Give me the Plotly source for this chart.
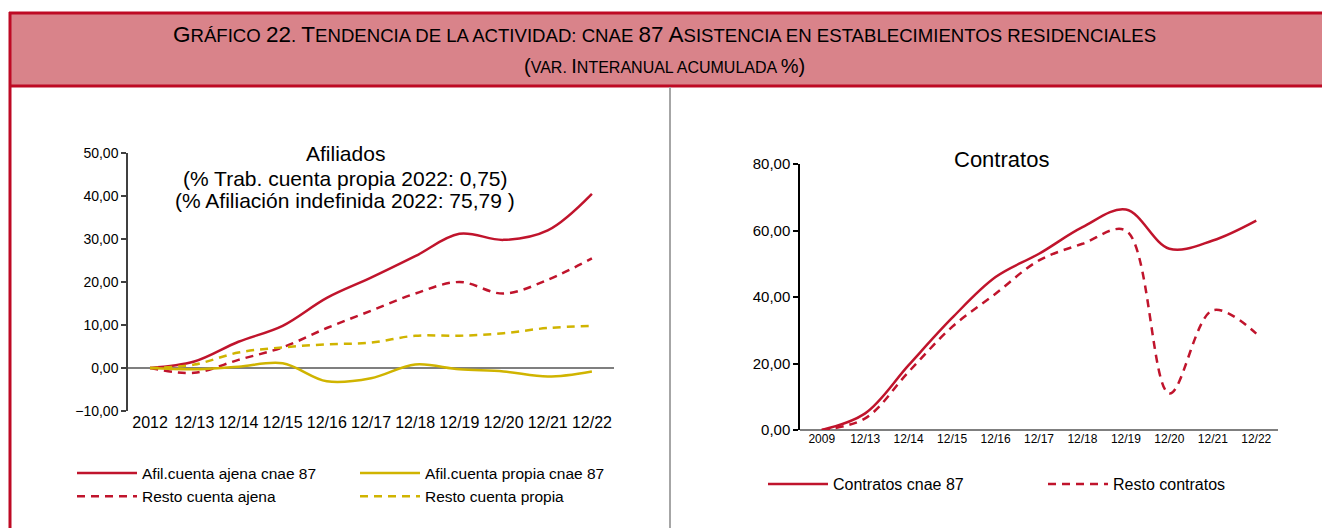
import plotly.graph_objects as go

# ---------------- data ----------------
cats_afil = ["2012", "12/13", "12/14", "12/15", "12/16", "12/17", "12/18", "12/19", "12/20", "12/21", "12/22"]
afil_ajena = [0, 1.5, 6.1, 9.8, 16.3, 21.0, 26.0, 31.2, 29.8, 32.0, 40.5]
resto_ajena = [0, -1.1, 1.9, 4.8, 9.3, 13.3, 17.3, 20.0, 17.3, 20.5, 25.5]
afil_propia = [0, -0.3, 0.3, 1.1, -3.1, -2.4, 0.8, -0.3, -0.8, -2.0, -0.8]
resto_propia = [0, 0.8, 3.6, 4.8, 5.5, 5.9, 7.5, 7.5, 8.1, 9.3, 9.8]

cats_contr = ["2009", "12/13", "12/14", "12/15", "12/16", "12/17", "12/18", "12/19", "12/20", "12/21", "12/22"]
contratos = [0, 5.0, 19.5, 33.7, 46.0, 53.0, 61.0, 66.3, 54.5, 57.0, 63.0]
resto_contr = [0, 3.5, 17.5, 31.0, 41.0, 51.0, 56.0, 60.0, 11.0, 36.0, 29.0]

afil_ticks = [-10, 0, 10, 20, 30, 40, 50]
contr_ticks = [0, 20, 40, 60, 80]

# ---------------- style ----------------
W, H = 1322, 528
RED = "#C0142C"
YEL = "#D0B400"
BAND_FILL = "#D9838A"
BAND_LINE = "#BE0A24"
FONT = "Liberation Sans, Arial, sans-serif"
DASH = "8px,6px"


def px(x):
    return x / W


def py(y):
    return 1 - y / H


fig = go.Figure()

fig.add_trace(go.Scatter(x=cats_afil, y=afil_ajena, name="Afil.cuenta ajena cnae 87", mode="lines",
                         line=dict(color=RED, width=2.5, shape="spline", smoothing=1.0),
                         xaxis="x", yaxis="y", legend="legend"))
fig.add_trace(go.Scatter(x=cats_afil, y=resto_ajena, name="Resto cuenta ajena", mode="lines",
                         line=dict(color=RED, width=2.5, dash=DASH, shape="spline", smoothing=1.0),
                         xaxis="x", yaxis="y", legend="legend"))
fig.add_trace(go.Scatter(x=cats_afil, y=afil_propia, name="Afil.cuenta propia cnae 87", mode="lines",
                         line=dict(color=YEL, width=2.5, shape="spline", smoothing=1.0),
                         xaxis="x", yaxis="y", legend="legend2"))
fig.add_trace(go.Scatter(x=cats_afil, y=resto_propia, name="Resto cuenta propia", mode="lines",
                         line=dict(color=YEL, width=2.5, dash=DASH, shape="spline", smoothing=1.0),
                         xaxis="x", yaxis="y", legend="legend2"))

fig.add_trace(go.Scatter(x=cats_contr, y=contratos, name="Contratos cnae 87", mode="lines",
                         line=dict(color=RED, width=2.5, shape="spline", smoothing=1.0),
                         xaxis="x2", yaxis="y2", legend="legend3"))
fig.add_trace(go.Scatter(x=cats_contr, y=resto_contr, name="Resto contratos", mode="lines",
                         line=dict(color=RED, width=2.5, dash=DASH, shape="spline", smoothing=1.0),
                         xaxis="x2", yaxis="y2", legend="legend4"))

# ---------------- title band ----------------
shapes = [
    dict(type="rect", xref="paper", yref="paper", x0=px(10), x1=px(1330), y0=py(86), y1=py(13),
         fillcolor=BAND_FILL, line=dict(width=0), layer="below"),
    dict(type="line", xref="paper", yref="paper", x0=px(9), x1=px(1330), y0=py(13), y1=py(13),
         line=dict(color=BAND_LINE, width=3)),
    dict(type="line", xref="paper", yref="paper", x0=px(9), x1=px(1330), y0=py(86), y1=py(86),
         line=dict(color=BAND_LINE, width=3)),
    dict(type="line", xref="paper", yref="paper", x0=px(10), x1=px(10), y0=py(12), y1=py(540),
         line=dict(color=BAND_LINE, width=3)),
    dict(type="line", xref="paper", yref="paper", x0=px(670), x1=px(670), y0=py(87), y1=py(540),
         line=dict(color="#A6A6A6", width=2)),
]


def sp(txt, size):
    return f'<span style="font-size:{size}px">{txt}</span>'


B1, S1 = 22.5, 18.6
B2, S2 = 20, 16
line1 = (sp("G", B1) + sp("RÁFICO ", S1) + sp("22", B1) + sp(". ", S1) + sp("T", B1)
         + sp("ENDENCIA DE LA ACTIVIDAD: CNAE ", S1) + sp("87 ", B1) + sp("A", B1)
         + sp("SISTENCIA EN ESTABLECIMIENTOS RESIDENCIALES", S1))
line2 = (sp("(", B2) + sp("VAR. ", S2) + sp("I", B2) + sp("NTERANUAL ACUMULADA ", S2) + sp("%)", B2))

annotations = [
    dict(text=line1, xref="paper", yref="paper", x=px(664), y=py(34), showarrow=False,
         xanchor="center", yanchor="middle", font=dict(family=FONT, size=B1, color="#000000")),
    dict(text=line2, xref="paper", yref="paper", x=px(664), y=py(66), showarrow=False,
         xanchor="center", yanchor="middle", font=dict(family=FONT, size=B2, color="#000000")),
    dict(text="Afiliados", xref="paper", yref="paper", x=px(345), y=py(153), showarrow=False,
         xanchor="center", yanchor="middle", font=dict(family=FONT, size=21, color="#000000")),
    dict(text="(% Trab. cuenta propia 2022: 0,75)", xref="paper", yref="paper", x=px(345), y=py(178),
         showarrow=False, xanchor="center", yanchor="middle", font=dict(family=FONT, size=21, color="#000000")),
    dict(text="(% Afiliación indefinida 2022: 75,79 )", xref="paper", yref="paper", x=px(345), y=py(201),
         showarrow=False, xanchor="center", yanchor="middle", font=dict(family=FONT, size=21, color="#000000")),
    dict(text="Contratos", xref="paper", yref="paper", x=px(1001), y=py(159), showarrow=False,
         xanchor="center", yanchor="middle", font=dict(family=FONT, size=22, color="#000000")),
]

fig.update_layout(
    width=W, height=H,
    margin=dict(l=0, r=0, t=0, b=0, pad=0, autoexpand=False),
    paper_bgcolor="white", plot_bgcolor="rgba(0,0,0,0)",
    separators=", ",
    font=dict(family=FONT, color="#000000"),
    shapes=shapes, annotations=annotations,
    xaxis=dict(domain=[px(128), px(614)], type="category", range=[-0.5, 10.5], showline=False,
               showgrid=False, zeroline=False, ticks="", tickfont=dict(size=16, family=FONT),
               anchor="y", fixedrange=True, automargin=False),
    yaxis=dict(domain=[py(411), py(153)], range=[-10, 50], tickvals=afil_ticks, tickformat=".2f",
               showline=True, linecolor="#404040", linewidth=1.5, ticks="outside", ticklen=5,
               tickcolor="#404040", tickwidth=1.5, showgrid=False, zeroline=True,
               zerolinecolor="#7F7F7F", zerolinewidth=1.5, tickfont=dict(size=14, family=FONT),
               anchor="x", fixedrange=True, automargin=False),
    xaxis2=dict(domain=[px(800), px(1278)], type="category", range=[-0.5, 10.5], showline=False,
                showgrid=False, zeroline=False, ticks="", tickfont=dict(size=12, family=FONT),
                anchor="y2", fixedrange=True, automargin=False),
    yaxis2=dict(domain=[py(430), py(164)], range=[0, 80], tickvals=contr_ticks, tickformat=".2f",
                showline=True, linecolor="#000000", linewidth=1.5, ticks="outside", ticklen=5,
                tickcolor="#000000", tickwidth=1.5, showgrid=False, zeroline=True,
                zerolinecolor="#7F7F7F", zerolinewidth=2, tickfont=dict(size=15, family=FONT),
                anchor="x2", fixedrange=True, automargin=False),
    legend=dict(x=px(72), y=py(485), xanchor="left", yanchor="middle", orientation="v",
                font=dict(size=15.5, family=FONT), bgcolor="rgba(0,0,0,0)", itemwidth=60,
                tracegroupgap=0),
    legend2=dict(x=px(355), y=py(485), xanchor="left", yanchor="middle", orientation="v",
                 font=dict(size=15.5, family=FONT), bgcolor="rgba(0,0,0,0)", itemwidth=60,
                 tracegroupgap=0),
    legend3=dict(x=px(763), y=py(484), xanchor="left", yanchor="middle", orientation="v",
                 font=dict(size=16, family=FONT), bgcolor="rgba(0,0,0,0)", itemwidth=60),
    legend4=dict(x=px(1043), y=py(484), xanchor="left", yanchor="middle", orientation="v",
                 font=dict(size=16, family=FONT), bgcolor="rgba(0,0,0,0)", itemwidth=60),
    showlegend=True,
)

fig.write_html("out.html", config={"displayModeBar": False},
               post_script="document.body.style.margin='0px';")
